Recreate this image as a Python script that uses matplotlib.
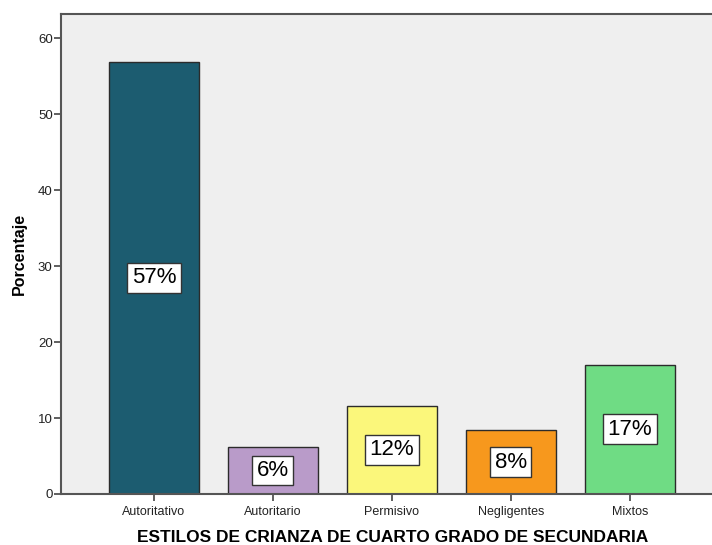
import numpy as np
import matplotlib.pyplot as plt

plt.rcParams["font.family"] = ["Liberation Sans", "DejaVu Sans"]

categories = ["Autoritativo", "Autoritario", "Permisivo", "Negligentes", "Mixtos"]
values = [56.9, 6.2, 11.6, 8.4, 17.0]
labels = ["57%", "6%", "12%", "8%", "17%"]
colors = ["#1c5c70", "#b99bc9", "#fbf77b", "#f7981d", "#6fdc84"]

fig = plt.figure(figsize=(7.12, 5.45), dpi=100)
ax = fig.add_axes([0.0857, 0.0936, 0.9143, 0.8807])
ax.set_facecolor("#efefef")

x = np.arange(len(categories))
ax.bar(x, values, width=0.756, color=colors, edgecolor="#2b2b2b", linewidth=1.0, zorder=2)

# percentage boxes at half bar height
for xi, v, lab in zip(x, values, labels):
    ax.text(xi, v / 2, lab, ha="center", va="center", fontsize=16, color="black", zorder=3,
            bbox=dict(boxstyle="square,pad=0.2", facecolor="white", edgecolor="#333333", linewidth=1.0))

ax.set_xlim(-0.78, 4.69)
ax.set_ylim(0, 63.2)
ax.set_yticks([0, 10, 20, 30, 40, 50, 60])
ax.set_xticks(x)
ax.set_xticklabels(categories, fontsize=9, color="#222222")
ax.tick_params(axis="y", labelsize=9.5, labelcolor="#222222", length=5, width=1.2, color="#444444", pad=1)
ax.tick_params(axis="x", length=5, width=1.2, color="#444444")

for side in ["left", "top", "bottom"]:
    ax.spines[side].set_color("#555555")
    ax.spines[side].set_linewidth(1.5)
ax.spines["right"].set_visible(False)

ax.set_ylabel("Porcentaje", fontsize=11.5, fontweight="bold", labelpad=8)
ax.set_xlabel("ESTILOS DE CRIANZA DE CUARTO GRADO DE SECUNDARIA", fontsize=12.5, fontweight="bold")
ax.xaxis.set_label_coords(0.51, -0.075)

fig.savefig("out.png", dpi=100)
